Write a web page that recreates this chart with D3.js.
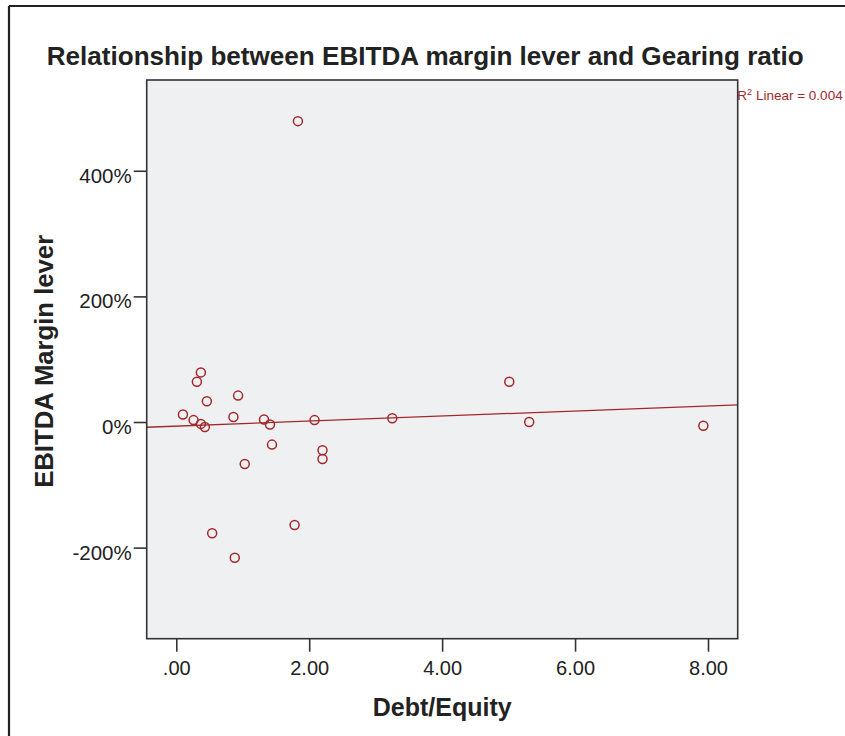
<!DOCTYPE html>
<html lang="en">
<head>
  <meta charset="UTF-8">
  <title>EBITDA margin lever vs Gearing ratio</title>
  <script src="https://d3js.org/d3.v7.min.js"></script>
  <style>
    body { margin: 0; background: #fff; }
    svg { display: block; font-family: "Liberation Sans", Arial, sans-serif; }
  </style>
</head>
<body>
  <svg></svg>
  <script>
    // values
    const debtEquity = [1.83, 0.10, 0.26, 0.31, 0.37, 0.37, 0.43, 0.46, 0.93, 0.86, 1.32, 1.41,
                        1.44, 1.03, 0.54, 0.88, 1.78, 2.08, 2.20, 2.20, 3.25, 5.01, 5.31, 7.93];
    const ebitdaLever = [479, 12, 3, 64, 79, -3, -8, 33, 42, 8, 4, -4,
                         -36, -67, -177, -216, -164, 3, -45, -59, 6, 64, 0, -6];
    const xTicks = [0, 2, 4, 6, 8];
    const yTicks = [-200, 0, 200, 400];
    const title = "Relationship between EBITDA margin lever and Gearing ratio";
    const fitLabel = "Linear = 0.004";

    const width = 845, height = 736;
    const plot = { left: 146.7, right: 737.7, top: 80, bottom: 638.7 };
    const red = "#a3282c";

    const svg = d3.select("svg").attr("width", width).attr("height", height);

    // outer frame
    svg.append("line").attr("x1", 9).attr("x2", width).attr("y1", 6).attr("y2", 6)
      .attr("stroke", "#222").attr("stroke-width", 2.2);
    svg.append("line").attr("x1", 9).attr("x2", 9).attr("y1", 6).attr("y2", height)
      .attr("stroke", "#222").attr("stroke-width", 2.2);

    const x = d3.scaleLinear().domain([-0.445, 8.447]).range([plot.left, plot.right]);
    const y = d3.scaleLinear().domain([-345, 544.5]).range([plot.bottom, plot.top]);

    svg.append("rect")
      .attr("x", plot.left).attr("y", plot.top)
      .attr("width", plot.right - plot.left).attr("height", plot.bottom - plot.top)
      .attr("fill", "#eff0f2");

    // linear fit
    const data = debtEquity.map((d, i) => ({ x: d, y: ebitdaLever[i] }));
    const mx = d3.mean(data, d => d.x), my = d3.mean(data, d => d.y);
    const slope = d3.sum(data, d => (d.x - mx) * (d.y - my)) / d3.sum(data, d => (d.x - mx) ** 2);
    const icpt = my - slope * mx;
    const [x0, x1] = x.domain();
    svg.append("line")
      .attr("x1", x(x0)).attr("y1", y(icpt + slope * x0))
      .attr("x2", x(x1)).attr("y2", y(icpt + slope * x1))
      .attr("stroke", red).attr("stroke-width", 1.3);

    svg.append("g").selectAll("circle")
      .data(data)
      .enter().append("circle")
      .attr("cx", d => x(d.x))
      .attr("cy", d => y(d.y))
      .attr("r", 4.5)
      .attr("fill", "none")
      .attr("stroke", red)
      .attr("stroke-width", 1.5);

    svg.append("rect")
      .attr("x", plot.left).attr("y", plot.top)
      .attr("width", plot.right - plot.left).attr("height", plot.bottom - plot.top)
      .attr("fill", "none").attr("stroke", "#333").attr("stroke-width", 1.6);

    // axes
    const xAxis = d3.axisBottom(x).tickValues(xTicks).tickSize(13).tickPadding(10)
      .tickFormat(d => d3.format(".2f")(d).replace(/^0\./, "."));
    const gx = svg.append("g").attr("transform", `translate(0,${plot.bottom})`).call(xAxis);
    gx.select(".domain").remove();
    gx.selectAll("line").attr("stroke", "#333").attr("stroke-width", 1.6);
    gx.selectAll("text").attr("font-size", 20).attr("fill", "#222")
      .attr("dy", null).attr("y", 36);

    const yAxis = d3.axisLeft(y).tickValues(yTicks).tickSize(13).tickPadding(2)
      .tickFormat(d => d + "%");
    const gy = svg.append("g").attr("transform", `translate(${plot.left},0)`).call(yAxis);
    gy.select(".domain").remove();
    gy.selectAll("line").attr("stroke", "#333").attr("stroke-width", 1.6);
    gy.selectAll("text").attr("font-size", 20.5).attr("fill", "#222")
      .attr("dy", null).attr("y", 11.5);

    // titles
    svg.append("text")
      .attr("x", 46.7).attr("y", 65)
      .attr("font-size", 25).attr("font-weight", "bold").attr("fill", "#222")
      .attr("textLength", 757).attr("lengthAdjust", "spacingAndGlyphs")
      .text(title);

    svg.append("text")
      .attr("transform", `translate(53,${(plot.top + plot.bottom) / 2 + 2}) rotate(-90)`)
      .attr("text-anchor", "middle")
      .attr("font-size", 25).attr("font-weight", "bold").attr("fill", "#222")
      .attr("textLength", 253).attr("lengthAdjust", "spacingAndGlyphs")
      .text("EBITDA Margin lever");

    svg.append("text")
      .attr("x", (plot.left + plot.right) / 2).attr("y", 716)
      .attr("text-anchor", "middle")
      .attr("font-size", 25).attr("font-weight", "bold").attr("fill", "#222")
      .text("Debt/Equity");

    // R² label
    const r2 = svg.append("text")
      .attr("x", plot.right - 0.5).attr("y", 100)
      .attr("font-size", 13.5).attr("fill", red);
    r2.append("tspan").text("R");
    r2.append("tspan").attr("font-size", 9).attr("dy", -5).text("2");
    r2.append("tspan").attr("dy", 5).attr("dx", 4).text(fitLabel);
  </script>
</body>
</html>
